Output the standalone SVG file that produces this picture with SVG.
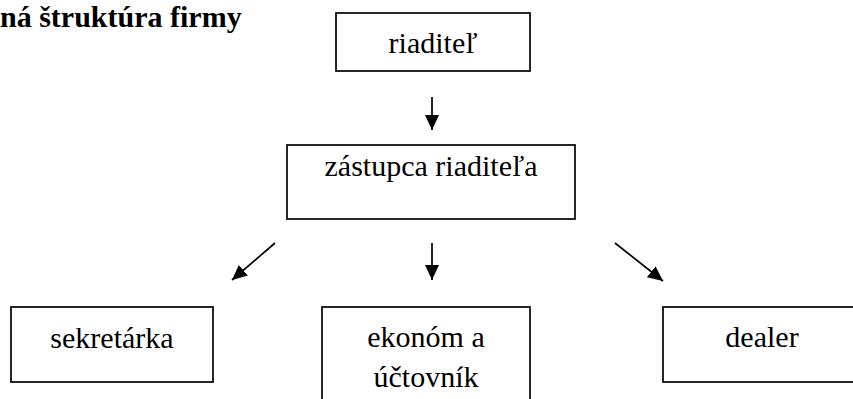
<svg xmlns="http://www.w3.org/2000/svg" width="853" height="399" viewBox="0 0 853 399">
<style>
.box{fill:#fff;stroke:#000;stroke-width:1.7}
.t{font-family:"Times New Roman","Liberation Serif","DejaVu Serif",Times,serif;font-size:30px;fill:#000;text-anchor:middle}
.title{font-family:"Times New Roman","Liberation Serif","DejaVu Serif",Times,serif;font-size:30px;font-weight:bold;fill:#000}
.c{stroke:#000;stroke-width:1.7;fill:none;marker-end:url(#ah)}
</style>
<defs>
<marker id="ah" viewBox="0 0 15 14" refX="15" refY="7" markerWidth="15" markerHeight="14" markerUnits="userSpaceOnUse" orient="auto">
<path d="M0,0 L15,7 L0,14 z" fill="#000"/>
</marker>
</defs>
<rect width="853" height="399" fill="#fff"/>
<text class="title" x="0" y="27">ná štruktúra firmy</text>
<g id="connectors">
<line class="c" x1="432" y1="97" x2="432" y2="130"/>
<line class="c" x1="275" y1="243" x2="232" y2="280"/>
<line class="c" x1="432" y1="243" x2="432" y2="280"/>
<line class="c" x1="615" y1="243" x2="663" y2="281"/>
</g>
<g id="riaditel">
<rect class="box" x="336" y="13" width="194" height="58"/>
<text class="t" x="433" y="53">riaditeľ</text>
</g>
<g id="zastupca">
<rect class="box" x="287" y="145" width="288" height="74"/>
<text class="t" x="431" y="176">zástupca riaditeľa</text>
</g>
<g id="sekretarka">
<rect class="box" x="11" y="307" width="202" height="75"/>
<text class="t" x="112" y="348">sekretárka</text>
</g>
<g id="ekonom">
<rect class="box" x="322" y="307" width="208" height="100"/>
<text class="t" x="426" y="347">ekonóm a</text>
<text class="t" x="426" y="387">účtovník</text>
</g>
<g id="dealer">
<rect class="box" x="663" y="307" width="200" height="75"/>
<text class="t" x="762" y="347">dealer</text>
</g>
</svg>
